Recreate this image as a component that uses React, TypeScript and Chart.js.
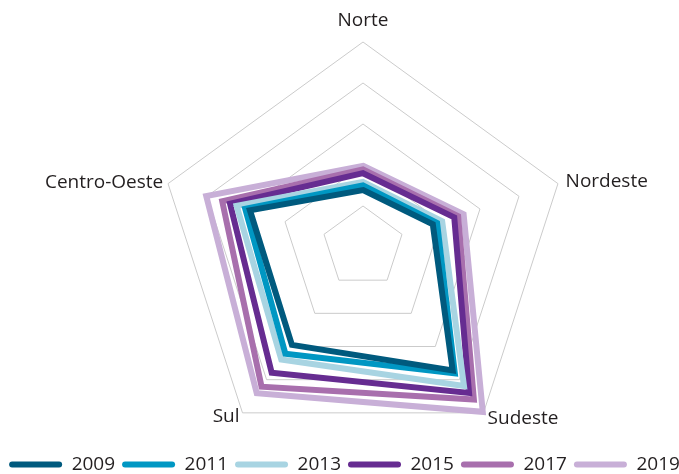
import React, { useEffect, useRef } from "react";
import { Chart, registerables } from "chart.js";

Chart.register(...registerables);

const REGIONS = ["Norte", "Nordeste", "Sudeste", "Sul", "Centro-Oeste"];
const YEARS = ["2009", "2011", "2013", "2015", "2017", "2019"];

const V2009 = [1.39, 1.79, 3.72, 2.95, 2.9];
const V2011 = [1.5, 1.9, 3.81, 3.22, 3.02];
const V2013 = [1.59, 2.03, 4.19, 3.39, 3.24];
const V2015 = [1.8, 2.34, 4.4, 3.79, 3.41];
const V2017 = [1.89, 2.44, 4.6, 4.21, 3.61];
const V2019 = [1.98, 2.58, 4.97, 4.41, 4.02];

const SERIES = [V2009, V2011, V2013, V2015, V2017, V2019];
const COLORS = ["#005a7e", "#0097c3", "#a8d4e2", "#662c91", "#a86fad", "#c8afd7"];

const SCALE_MAX = 5;
const W = 679;
const H = 474;
const CENTER_X = 363;
const CENTER_Y = 247;
const RADIUS = 205;
const LABEL_PAD = [21, 8, 7, 5, 5];
const FONT = "'Open Sans', 'Noto Sans', sans-serif";
const TEXT = "#231f20";

export default function App() {
  const ref = useRef<HTMLCanvasElement | null>(null);

  useEffect(() => {
    if (!ref.current) return;
    const chart = new Chart(ref.current, {
      type: "radar",
      data: {
        labels: REGIONS,
        datasets: YEARS.map((y, i) => ({
          label: y,
          data: SERIES[i],
          borderColor: COLORS[i],
          backgroundColor: COLORS[i],
          borderWidth: 6,
          borderJoinStyle: "miter" as const,
          pointRadius: 0,
          pointHoverRadius: 0,
          fill: false,
          tension: 0,
          clip: false as any,
        })),
      },
      options: {
        responsive: false,
        animation: false,
        devicePixelRatio: 1,
        layout: { padding: { left: -2, right: -12, top: 0, bottom: -10 } },
        plugins: {
          tooltip: { enabled: false },
          legend: {
            position: "bottom",
            labels: {
              boxWidth: 53,
              boxHeight: 6,
              padding: 7,
              useBorderRadius: true,
              borderRadius: 3,
              color: TEXT,
              font: { family: FONT, size: 19 },
              generateLabels: (c: any) =>
                c.data.datasets.map((ds: any, i: number) => ({
                  text: ds.label,
                  fillStyle: ds.borderColor,
                  strokeStyle: ds.borderColor,
                  lineWidth: 0,
                  hidden: false,
                  datasetIndex: i,
                  borderRadius: 3,
                  fontColor: TEXT,
                })),
            },
          },
        },
        scales: {
          r: {
            min: 0,
            max: SCALE_MAX,
            ticks: { display: false, stepSize: 1 },
            grid: { color: "#cbcbcb", lineWidth: 1 },
            angleLines: { display: false },
            pointLabels: {
              color: TEXT,
              font: { family: FONT, size: 19, lineHeight: 0 },
              padding: (ctx: any) => LABEL_PAD[ctx.index],
            },
            afterFit: (scale: any) => {
              const saved = [scale.left, scale.top, scale.right, scale.bottom];
              scale.left = 0;
              scale.top = 0;
              scale.right = W;
              scale.bottom = H;
              scale.xCenter = CENTER_X;
              scale.yCenter = CENTER_Y;
              scale.drawingArea = RADIUS;
              scale.fit();
              scale.xCenter = CENTER_X;
              scale.yCenter = CENTER_Y;
              scale.drawingArea = RADIUS;
              [scale.left, scale.top, scale.right, scale.bottom] = saved;
            },
          } as any,
        },
      },
    });
    return () => chart.destroy();
  }, []);

  return (
    <div style={{ position: "fixed", left: 0, top: 0, width: W, height: H, background: "#fff" }}>
      <canvas ref={ref} width={W} height={H} style={{ display: "block" }} />
    </div>
  );
}
